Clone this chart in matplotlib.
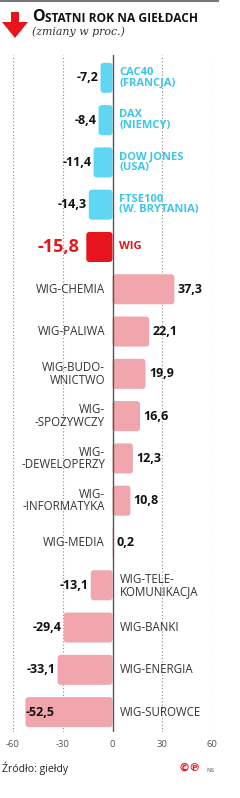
import matplotlib.pyplot as plt
from matplotlib.patches import FancyBboxPatch, Polygon

# dane
categories = ["CAC40\n(FRANCJA)", "DAX\n(NIEMCY)", "DOW JONES\n(USA)", "FTSE100\n(W. BRYTANIA)",
              "WIG", "WIG-CHEMIA", "WIG-PALIWA", "WIG-BUDO-\nWNICTWO", "WIG-\n-SPOŻYWCZY",
              "WIG-\n-DEWELOPERZY", "WIG-\n-INFORMATYKA", "WIG-MEDIA", "WIG-TELE-\nKOMUNIKACJA",
              "WIG-BANKI", "WIG-ENERGIA", "WIG-SUROWCE"]
values = [-7.2, -8.4, -11.4, -14.3, -15.8, 37.3, 22.1, 19.9, 16.6, 12.3, 10.8, 0.2,
          -13.1, -29.4, -33.1, -52.5]
groups = ["world"] * 4 + ["wig"] + ["sector"] * 11
xticks = [-60, -30, 0, 30, 60]

bar_colors = {"world": "#5fd7f2", "wig": "#e8141c", "sector": "#f1a5ac"}
label_colors = {"world": "#3cc6ea", "wig": "#e8141c", "sector": "#333333"}

FONT = "Open Sans"
W, H = 240, 798

fig = plt.figure(figsize=(W / 100, H / 100), dpi=100)
ax = fig.add_axes([13 / W, 1 - 732 / H, 199 / W, 677 / H])

pos = list(range(len(values)))
bars = ax.barh(pos, values, height=0.71, color=[bar_colors[g] for g in groups])

# zaokraglone rogi
px_x = 199 / 120
px_y = 677 / 15.99
for b, g in zip(bars, groups):
    x0 = min(b.get_x(), b.get_x() + b.get_width())
    w = abs(b.get_width())
    r = min(2.0, w / 2)
    fb = FancyBboxPatch((x0, b.get_y()), w, b.get_height(),
                        boxstyle=f"round,pad=0,rounding_size={r}",
                        mutation_aspect=px_x / px_y,
                        facecolor=bar_colors[g], edgecolor="none", zorder=2)
    ax.add_patch(fb)
    b.set_visible(False)

ax.set_xlim(-60, 60)
ax.set_ylim(15.47, -0.54)

for x in [-60, -30, 30, 60]:
    ax.axvline(x, color="#888888", lw=0.8, ls=(0, (1, 2)), zorder=1)
ax.axvline(0, color="#555555", lw=1.0, zorder=3)

ax.set_xticks(xticks)
ax.set_xticklabels([str(t) for t in xticks], fontsize=6.8, color="#555555", family=FONT)
ax.tick_params(axis="x", length=0, pad=6)
ax.set_yticks([])
for s in ax.spines.values():
    s.set_visible(False)

for i, (cat, v, g) in enumerate(zip(categories, values, groups)):
    txt = f"{v:.1f}".replace(".", ",")
    if g == "wig":
        ax.text(v - 4, i, txt, ha="right", va="center", fontsize=13, color="#e8141c",
                family=FONT, fontweight="bold")
        ax.text(4.2, i, cat, ha="left", va="center", fontsize=8, color=label_colors[g],
                family=FONT, fontweight="bold")
        continue
    if v >= 0:
        ax.text(v + 2, i, txt, ha="left", va="center", fontsize=9, color="#111111",
                family=FONT, fontweight="bold")
        ax.text(-4.5, i, cat, ha="right", va="center", fontsize=8.3, color=label_colors[g],
                family=FONT, linespacing=0.95)
    else:
        if v < -45:
            ax.text(v + 0.3, i, txt, ha="left", va="center", fontsize=9, color="#111111",
                    family=FONT, fontweight="bold", zorder=4)
        else:
            ax.text(v - 1.0, i, txt, ha="right", va="center", fontsize=9, color="#111111",
                    family=FONT, fontweight="bold", zorder=4)
        wt = "bold" if g == "world" else "normal"
        fs = 8 if g == "world" else 8.3
        ax.text(4.2, i, cat, ha="left", va="center", fontsize=fs, color=label_colors[g],
                family=FONT, fontweight=wt, linespacing=0.95)

# naglowek
bg = fig.add_axes([0, 0, 1, 1], zorder=-1)
bg.set_xlim(0, W)
bg.set_ylim(H, 0)
bg.axis("off")

bg.plot([0, 218], [1, 1], color="#777777", lw=1.5)
arrow = Polygon([(11, 12), (19, 12), (19, 22), (28, 22), (15, 38), (2, 22), (11, 22)],
                closed=True, facecolor="#e8141c", edgecolor="none")
bg.add_patch(arrow)

t1 = bg.text(32, 21, "O", fontsize=11.5, fontweight="bold", family=FONT, color="#111111",
             va="baseline")
bg.annotate("STATNI ROK NA GIEŁDACH", xy=(1, 0), xycoords=t1, xytext=(0.5, 0),
            textcoords="offset points", fontsize=8.6, fontweight="bold", family=FONT,
            color="#111111", va="bottom")
bg.text(32, 35, "(zmiany w proc.)", fontsize=7.9, style="italic", family="DejaVu Serif",
        color="#333333", va="baseline")

# stopka
bg.text(2, 768, "Źródło: giełdy", fontsize=7.5, family=FONT, color="#222222", va="center")
bg.text(179, 768, "©℗", fontsize=8, family="DejaVu Sans", color="#e8141c", va="center",
        fontweight="bold")
bg.text(206, 770, "NS", fontsize=4.5, family=FONT, color="#555555", va="center")

fig.savefig("out.png", dpi=100)
